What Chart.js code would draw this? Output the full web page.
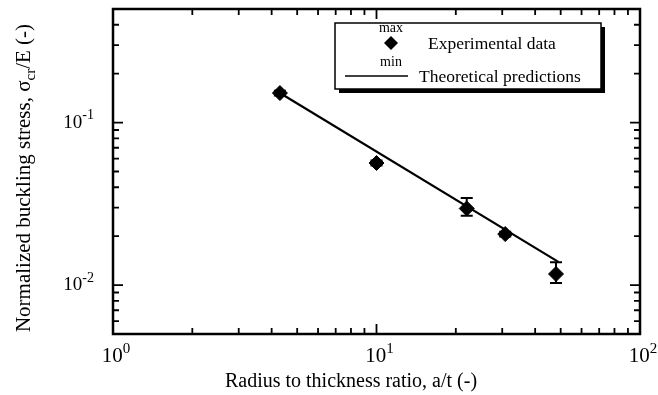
<!DOCTYPE html>
<html>
<head>
<meta charset="utf-8">
<script src="https://cdn.jsdelivr.net/npm/chart.js@4/dist/chart.umd.min.js"></script>
<style>
  html, body { margin: 0; padding: 0; background: #fff; }
  #wrap { width: 658px; height: 395px; }
</style>
</head>
<body>
<div id="wrap"><canvas id="bucklingChart" width="658" height="395"></canvas></div>
<script>
// experimental points (a/t, sigma_cr/E) with max/min spread
var ratio = [4.3, 10, 22, 30.8, 48];
var stress = [0.152, 0.0564, 0.0296, 0.0206, 0.0117];
var stressMax = [0.157, 0.0585, 0.0343, 0.0213, 0.0138];
var stressMin = [0.147, 0.0545, 0.0267, 0.0199, 0.0103];

// theoretical prediction line
var theoryRatio = [4.3, 49];
var theoryStress = [0.152, 0.0139];

var xTickLabels = ['0', '1', '2'];   // exponents for 10^n
var yTickLabels = ['-1', '-2'];

var FONT = '"Liberation Serif", "Times New Roman", serif';

function pow10Label(ctx, exp, x, y, align, size, supSize) {
    ctx.font = size + 'px ' + FONT;
    var wBase = ctx.measureText('10').width;
    ctx.font = supSize + 'px ' + FONT;
    var wExp = ctx.measureText(exp).width;
    var total = wBase + wExp;
    var left = align === 'right' ? x - total : x - total / 2;
    ctx.textAlign = 'left';
    ctx.textBaseline = 'alphabetic';
    ctx.font = size + 'px ' + FONT;
    ctx.fillText('10', left, y);
    ctx.font = supSize + 'px ' + FONT;
    ctx.fillText(exp, left + wBase, y - size * 0.45);
}

var frameAndExtras = {
    id: 'frameAndExtras',
    afterDatasetsDraw: function(chart) {
        var ctx = chart.ctx;
        var xs = chart.scales.x, ys = chart.scales.y;
        var area = chart.chartArea;
        ctx.save();
        ctx.strokeStyle = '#000';
        ctx.fillStyle = '#000';

        // error bars
        ctx.lineWidth = 2;
        for (var i = 0; i < ratio.length; i++) {
            var px = xs.getPixelForValue(ratio[i]);
            var top = ys.getPixelForValue(stressMax[i]);
            var bot = ys.getPixelForValue(stressMin[i]);
            ctx.beginPath();
            ctx.moveTo(px, top); ctx.lineTo(px, bot);
            ctx.moveTo(px - 6, top); ctx.lineTo(px + 6, top);
            ctx.moveTo(px - 6, bot); ctx.lineTo(px + 6, bot);
            ctx.stroke();
        }

        // frame
        ctx.lineWidth = 2.5;
        ctx.strokeRect(area.left, area.top, area.right - area.left, area.bottom - area.top);

        // ticks on all four sides, pointing inward
        ctx.lineWidth = 1.8;
        ctx.beginPath();
        for (var d = 1; d < 100; d *= 10) {
            for (var m = 1; m <= 10; m++) {
                var v = d * m;
                if (v > 100) break;
                var len = (m === 1 || m === 10) ? 10 : 6;
                var x = xs.getPixelForValue(v);
                ctx.moveTo(x, area.bottom); ctx.lineTo(x, area.bottom - len);
                ctx.moveTo(x, area.top); ctx.lineTo(x, area.top + len);
            }
        }
        var yVals = [0.005, 0.006, 0.007, 0.008, 0.009, 0.01, 0.02, 0.03, 0.04, 0.05,
                     0.06, 0.07, 0.08, 0.09, 0.1, 0.2, 0.3, 0.4, 0.5];
        yVals.forEach(function(v) {
            var len = (v === 0.01 || v === 0.1) ? 10 : 6;
            var y = ys.getPixelForValue(v);
            ctx.moveTo(area.left, y); ctx.lineTo(area.left + len, y);
            ctx.moveTo(area.right, y); ctx.lineTo(area.right - len, y);
        });
        ctx.stroke();

        // tick labels
        xTickLabels.forEach(function(e) {
            pow10Label(ctx, e, xs.getPixelForValue(Math.pow(10, +e)) + 3, 362, 'center', 21, 15);
        });
        yTickLabels.forEach(function(e) {
            pow10Label(ctx, e, 94, ys.getPixelForValue(Math.pow(10, +e)) + 5, 'right', 19, 14);
        });

        // axis titles
        ctx.font = '20px ' + FONT;
        ctx.textAlign = 'center';
        ctx.textBaseline = 'alphabetic';
        ctx.fillText('Radius to thickness ratio, a/t (-)', 351, 387);

        ctx.save();
        ctx.translate(30, 178);
        ctx.rotate(-Math.PI / 2);
        var p1 = 'Normalized buckling stress, \u03c3', sub = 'cr', p2 = '/E (-)';
        ctx.font = '21px ' + FONT;
        var w1 = ctx.measureText(p1).width, w3 = ctx.measureText(p2).width;
        ctx.font = '15px ' + FONT;
        var w2 = ctx.measureText(sub).width;
        var sx = -(w1 + w2 + w3) / 2;
        ctx.textAlign = 'left';
        ctx.font = '21px ' + FONT;
        ctx.fillText(p1, sx, 0);
        ctx.font = '15px ' + FONT;
        ctx.fillText(sub, sx + w1, 5);
        ctx.font = '21px ' + FONT;
        ctx.fillText(p2, sx + w1 + w2, 0);
        ctx.restore();

        // legend box with shadow
        var lx = 335, ly = 23, lw = 266, lh = 66;
        ctx.fillRect(lx + 4, ly + 4, lw, lh);
        ctx.fillStyle = '#fff';
        ctx.fillRect(lx, ly, lw, lh);
        ctx.lineWidth = 1.5;
        ctx.strokeRect(lx, ly, lw, lh);
        ctx.fillStyle = '#000';

        ctx.font = '14px ' + FONT;
        ctx.textAlign = 'center';
        ctx.fillText('max', 391, 32);
        ctx.fillText('min', 391, 66);
        ctx.beginPath();
        ctx.moveTo(391, 36); ctx.lineTo(398, 43); ctx.lineTo(391, 50); ctx.lineTo(384, 43);
        ctx.closePath();
        ctx.fill();

        ctx.lineWidth = 1.5;
        ctx.beginPath();
        ctx.moveTo(345, 76); ctx.lineTo(408, 76);
        ctx.stroke();

        ctx.font = '17.5px ' + FONT;
        ctx.textAlign = 'left';
        ctx.fillText('Experimental data', 428, 49);
        ctx.fillText('Theoretical predictions', 419, 82);
        ctx.restore();
    }
};

document.addEventListener('DOMContentLoaded', function() {
    var ctx = document.getElementById('bucklingChart').getContext('2d');
    var expPoints = ratio.map(function(r, i) { return { x: r, y: stress[i] }; });
    var theoryPoints = theoryRatio.map(function(r, i) { return { x: r, y: theoryStress[i] }; });

    new Chart(ctx, {
        type: 'scatter',
        data: {
            datasets: [{
                label: 'Theoretical predictions',
                data: theoryPoints,
                showLine: true,
                borderColor: '#000',
                borderWidth: 2.2,
                pointRadius: 0,
                fill: false
            }, {
                label: 'Experimental data',
                data: expPoints,
                pointStyle: 'rectRot',
                pointRadius: 7.5,
                backgroundColor: '#000',
                borderColor: '#000',
                borderWidth: 1
            }]
        },
        options: {
            responsive: false,
            animation: false,
            events: [],
            layout: { padding: { top: 9, right: 18, left: 0, bottom: 0 } },
            plugins: {
                legend: { display: false },
                tooltip: { enabled: false }
            },
            scales: {
                x: {
                    type: 'logarithmic',
                    min: 1, max: 100,
                    grid: { display: false, drawTicks: false },
                    border: { display: false },
                    ticks: { display: false },
                    afterFit: function(scale) { scale.height = 61; }
                },
                y: {
                    type: 'logarithmic',
                    min: 0.005, max: 0.5,
                    grid: { display: false, drawTicks: false },
                    border: { display: false },
                    ticks: { display: false },
                    afterFit: function(scale) { scale.width = 113; }
                }
            }
        },
        plugins: [frameAndExtras]
    });
});
</script>
</body>
</html>
